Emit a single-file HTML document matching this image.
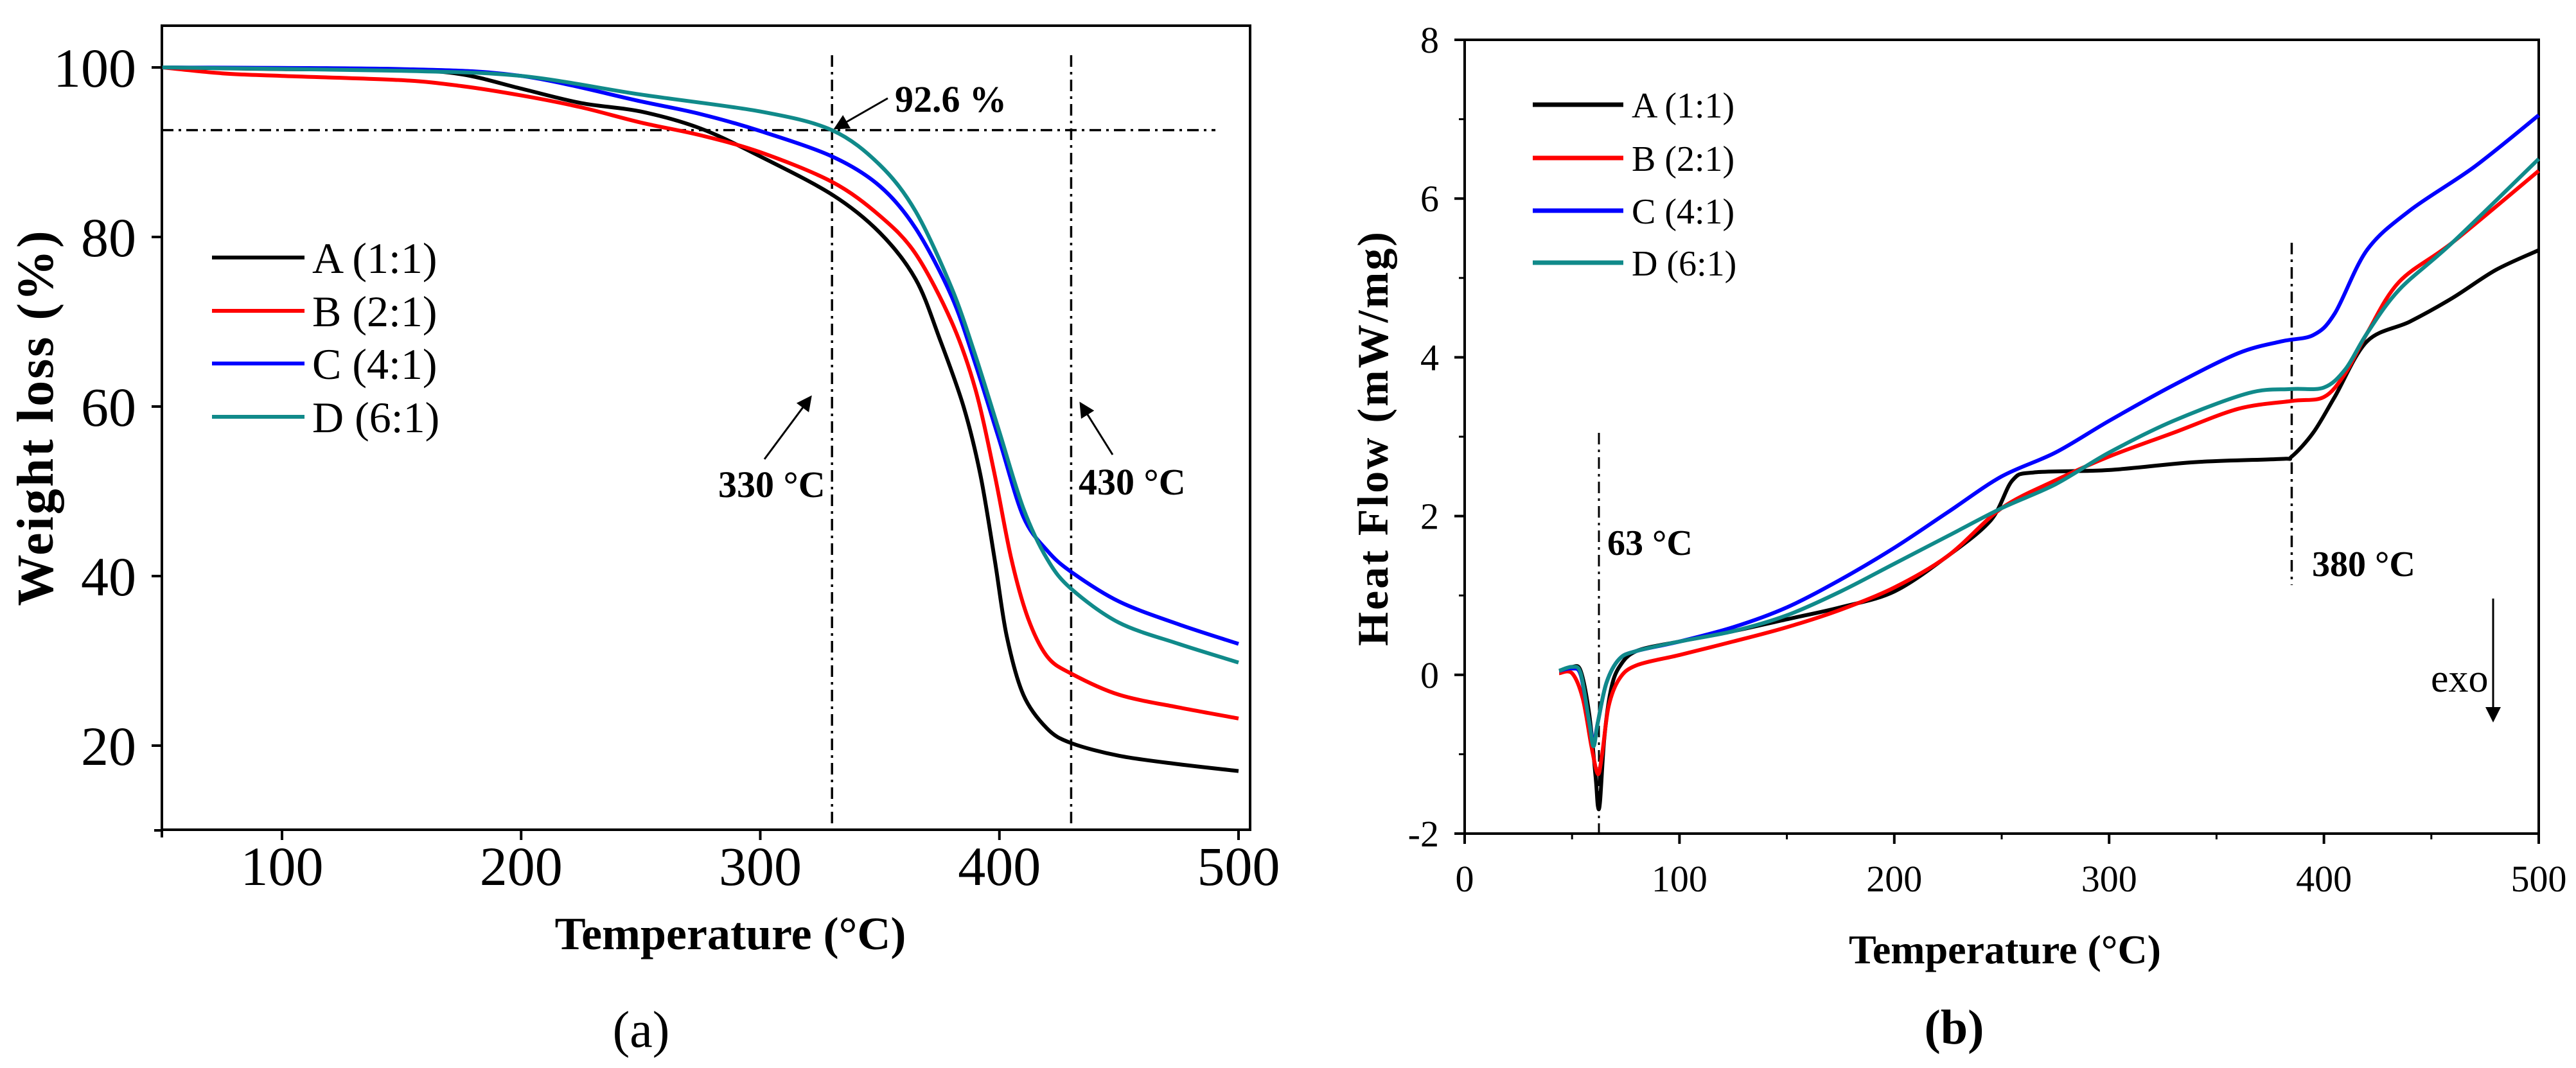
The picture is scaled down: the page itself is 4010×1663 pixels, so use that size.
<!DOCTYPE html>
<html><head><meta charset="utf-8"><style>
html,body{margin:0;padding:0;background:#fff}
svg{display:block}
text{font-family:"Liberation Serif",serif}
.b{font-weight:bold}
</style></head><body>
<svg id="s" width="4010" height="1663" viewBox="0 0 4010 1663">
<g id="ga"></g>
<g id="gb"></g>
</svg>
<script>
const NS='http://www.w3.org/2000/svg';
const seriesNames=['A (1:1)','B (2:1)','C (4:1)','D (6:1)'];
const colors=['#000','#f00','#00f','#108a8a'];
const tgaXTicks=[100,200,300,400,500];
const tgaYTicks=[20,40,60,80,100];
const tgaA_x=[50,100,150,175,200,225,250,275,300,330,350,365,375,385,392,398,403,410,420,430,450,475,500];
const tgaA_y=[100,99.8,99.7,99.2,97.5,95.8,94.8,92.8,89.5,85,80.5,75,68,60,52,42,33,26,22,20.3,18.8,17.8,17];
const tgaB_x=[50,75,100,150,175,200,225,250,275,300,330,350,365,380,390,398,405,412,420,430,450,475,500];
const tgaB_y=[100,99.3,99,98.5,97.8,96.7,95.3,93.5,92,90,86.5,82.5,78,70,62,52,42,35,30.5,28.5,26,24.5,23.2];
const tgaC_x=[50,150,200,250,275,300,330,350,365,380,390,400,410,420,430,450,475,500];
const tgaC_y=[100,99.8,99,96,94.5,92.5,89.5,86,81,73,65,56,47,43,40.5,37,34.3,32];
const tgaD_x=[50,150,200,250,300,330,350,365,380,390,400,410,420,430,450,475,500];
const tgaD_y=[100,99.6,99,96.8,94.8,92.6,88.5,83,74,66,57,48,42,38.5,34.5,32,29.8];
const dscXTicks=[0,100,200,300,400,500];
const dscYTicks=[-2,0,2,4,6,8];
const dscA_x=[44,50,54,58,61,62,63,65,68,72,80,100,125,150,175,200,225,245,255,265,300,340,380,385,395,405,420,440,460,480,500];
const dscA_y=[0.05,0.1,0.05,-0.5,-1.3,-1.65,-1.6,-0.8,-0.2,0.1,0.3,0.42,0.55,0.7,0.85,1.05,1.5,1.95,2.45,2.55,2.58,2.68,2.72,2.75,3.05,3.5,4.2,4.45,4.75,5.1,5.35];
const dscB_x=[44,50,55,59,62,64,67,72,80,100,125,150,175,200,225,250,275,300,330,360,385,400,410,420,435,460,500];
const dscB_y=[0.02,0.02,-0.3,-0.9,-1.25,-1.0,-0.4,-0.05,0.12,0.25,0.42,0.6,0.82,1.1,1.5,2.1,2.45,2.75,3.05,3.35,3.45,3.5,3.8,4.3,4.95,5.45,6.35];
const dscC_x=[44,50,54,58,60,62,66,72,80,100,125,150,175,200,225,250,275,300,330,360,380,395,405,420,440,470,500];
const dscC_y=[0.05,0.08,0,-0.6,-0.85,-0.6,-0.1,0.2,0.3,0.42,0.6,0.85,1.2,1.6,2.05,2.5,2.8,3.2,3.65,4.05,4.2,4.28,4.55,5.35,5.85,6.4,7.05];
const dscD_x=[44,50,54,58,60,62,66,72,80,100,125,150,175,200,225,250,275,300,330,365,385,400,410,420,435,460,500];
const dscD_y=[0.05,0.1,0.02,-0.6,-0.9,-0.6,-0.1,0.2,0.3,0.42,0.55,0.75,1.05,1.4,1.75,2.1,2.4,2.8,3.2,3.55,3.6,3.62,3.85,4.3,4.85,5.45,6.5];

function el(p,tag,attrs,txt){const e=document.createElementNS(NS,tag);for(const k in attrs)e.setAttribute(k,attrs[k]);if(txt!==undefined)e.textContent=txt;p.appendChild(e);return e;}
function smooth(P){
 let d='M'+P[0][0].toFixed(1)+','+P[0][1].toFixed(1);
 for(let i=0;i<P.length-1;i++){
  const p0=P[Math.max(0,i-1)],p1=P[i],p2=P[i+1],p3=P[Math.min(P.length-1,i+2)];
  const t=0.16;
  const c1=[p1[0]+(p2[0]-p0[0])*t,p1[1]+(p2[1]-p0[1])*t];
  const c2=[p2[0]-(p3[0]-p1[0])*t,p2[1]-(p3[1]-p1[1])*t];
  d+=' C'+c1[0].toFixed(1)+','+c1[1].toFixed(1)+' '+c2[0].toFixed(1)+','+c2[1].toFixed(1)+' '+p2[0].toFixed(1)+','+p2[1].toFixed(1);
 }
 return d;
}

// ---- chart (a)
const ga=document.getElementById('ga');
const aL=252,aR=1946,aT=40,aB=1292;
const ax=v=>439+(v-100)*3.7225;
const ay=v=>105+(100-v)*13.2;
const fa=el(ga,'rect',{x:aL,y:aT,width:aR-aL,height:aB-aT,fill:'none',stroke:'#000','stroke-width':4});


tgaXTicks.forEach(v=>{
 el(ga,'line',{x1:ax(v),x2:ax(v),y1:aB,y2:aB+16,stroke:'#000','stroke-width':4});
 const t=el(ga,'text',{x:ax(v),y:1378,'font-size':86,'text-anchor':'middle'},v);
 
 
});
el(ga,'line',{x1:aL,x2:aL,y1:aB,y2:aB+12,stroke:'#000','stroke-width':4});
tgaYTicks.forEach(v=>{
 el(ga,'line',{x1:aL-16,x2:aL,y1:ay(v),y2:ay(v),stroke:'#000','stroke-width':4});
 const t=el(ga,'text',{x:212,y:ay(v)+30,'font-size':86,'text-anchor':'end'},v);
 
 
});
el(ga,'line',{x1:aL-12,x2:aL,y1:ay(10),y2:ay(10),stroke:'#000','stroke-width':4});
let t=el(ga,'text',{x:1137,y:1478,'font-size':72,'text-anchor':'middle',class:'b'},'Temperature (°C)');

t=el(ga,'text',{x:0,y:0,'font-size':80,'text-anchor':'middle',class:'b','letter-spacing':3,transform:'translate(82,650) rotate(-90)'},'Weight loss (%)');

t=el(ga,'text',{x:998,y:1630,'font-size':80,'text-anchor':'middle'},'(a)');

const dd='18 8 4 8';
el(ga,'line',{x1:aL,x2:1892,y1:ay(92.6),y2:ay(92.6),stroke:'#000','stroke-width':3.5,'stroke-dasharray':dd});
el(ga,'line',{x1:ax(330),x2:ax(330),y1:86,y2:aB,stroke:'#000','stroke-width':3.5,'stroke-dasharray':dd});
el(ga,'line',{x1:ax(430),x2:ax(430),y1:86,y2:aB,stroke:'#000','stroke-width':3.5,'stroke-dasharray':dd});
const defs=el(document.getElementById('s'),'defs',{});
const mk=el(defs,'marker',{id:'ah',markerWidth:8,markerHeight:8,refX:7,refY:4,orient:'auto',markerUnits:'strokeWidth'});
el(mk,'path',{d:'M0,0 L8,4 L0,8 z',fill:'#000'});
el(ga,'line',{x1:1382,y1:153,x2:1300,y2:200,stroke:'#000','stroke-width':3,'marker-end':'url(#ah)'});
el(ga,'line',{x1:1190,y1:715,x2:1262,y2:618,stroke:'#000','stroke-width':3,'marker-end':'url(#ah)'});
el(ga,'line',{x1:1732,y1:708,x2:1682,y2:628,stroke:'#000','stroke-width':3,'marker-end':'url(#ah)'});
t=el(ga,'text',{x:1393,y:174,'font-size':58,class:'b'},'92.6 %');
t=el(ga,'text',{x:1118,y:774,'font-size':58,class:'b'},'330 °C');
t=el(ga,'text',{x:1679,y:770,'font-size':58,class:'b'},'430 °C');
const tgaX=[tgaA_x,tgaB_x,tgaC_x,tgaD_x],tgaY=[tgaA_y,tgaB_y,tgaC_y,tgaD_y];
const legA=[401,484,566,649];
for(let i=0;i<4;i++){
 const P=tgaX[i].map((x,j)=>[ax(x),ay(tgaY[i][j])]);
 const p=el(ga,'path',{d:smooth(P),fill:'none',stroke:colors[i],'stroke-width':6,'stroke-linejoin':'round'});
 
 
 const l=el(ga,'line',{x1:330,x2:474,y1:legA[i],y2:legA[i],stroke:colors[i],'stroke-width':6});
 
 
 const lt=el(ga,'text',{x:486,y:legA[i]+24,'font-size':68},seriesNames[i]);
 
 
}

// ---- chart (b)
const gb=document.getElementById('gb');
const bL=2280,bR=3952,bT=62,bB=1298;
const bx=v=>bL+v*(bR-bL)/500;
const by=v=>bB-(v+2)*(bB-bT)/10;
const fb=el(gb,'rect',{x:bL,y:bT,width:bR-bL,height:bB-bT,fill:'none',stroke:'#000','stroke-width':4});


dscXTicks.forEach(v=>{
 el(gb,'line',{x1:bx(v),x2:bx(v),y1:bB,y2:bB+16,stroke:'#000','stroke-width':4});
 if(v<500) el(gb,'line',{x1:bx(v+50),x2:bx(v+50),y1:bB,y2:bB+9,stroke:'#000','stroke-width':3});
 const t=el(gb,'text',{x:bx(v),y:1388,'font-size':58,'text-anchor':'middle'},v);
 
 
});
dscYTicks.forEach(v=>{
 el(gb,'line',{x1:bL-16,x2:bL,y1:by(v),y2:by(v),stroke:'#000','stroke-width':4});
 if(v<8) el(gb,'line',{x1:bL-9,x2:bL,y1:by(v+1),y2:by(v+1),stroke:'#000','stroke-width':3});
 const t=el(gb,'text',{x:2240,y:by(v)+20,'font-size':58,'text-anchor':'end'},v);
 
 
});
t=el(gb,'text',{x:3121,y:1500,'font-size':64,'text-anchor':'middle',class:'b'},'Temperature (°C)');

t=el(gb,'text',{x:0,y:0,'font-size':68,'text-anchor':'middle',class:'b','letter-spacing':3,transform:'translate(2160,682) rotate(-90)'},'Heat Flow (mW/mg)');

t=el(gb,'text',{x:3042,y:1625,'font-size':76,'text-anchor':'middle',class:'b'},'(b)');

el(gb,'line',{x1:bx(62.5),x2:bx(62.5),y1:674,y2:bB,stroke:'#000','stroke-width':3,'stroke-dasharray':dd});
el(gb,'line',{x1:bx(385),x2:bx(385),y1:378,y2:911,stroke:'#000','stroke-width':3.5,'stroke-dasharray':dd});
t=el(gb,'text',{x:2502,y:864,'font-size':56,class:'b'},'63 °C');
t=el(gb,'text',{x:3599,y:897,'font-size':56,class:'b'},'380 °C');
t=el(gb,'text',{x:3784,y:1077,'font-size':62},'exo');
el(gb,'line',{x1:3881,y1:932,x2:3881,y2:1122,stroke:'#000','stroke-width':3,'marker-end':'url(#ah)'});
const dscX=[dscA_x,dscB_x,dscC_x,dscD_x],dscY=[dscA_y,dscB_y,dscC_y,dscD_y];
const legB=[163,246,328,409];
for(let i=0;i<4;i++){
 const P=dscX[i].map((x,j)=>[bx(x),by(dscY[i][j])]);
 const p=el(gb,'path',{d:smooth(P),fill:'none',stroke:colors[i],'stroke-width':6,'stroke-linejoin':'round'});
 
 
 const l=el(gb,'line',{x1:2386,x2:2527,y1:legB[i],y2:legB[i],stroke:colors[i],'stroke-width':7});
 
 
 const lt=el(gb,'text',{x:2540,y:legB[i]+20,'font-size':56},seriesNames[i]);
 
 
}
</script>
</body></html>
